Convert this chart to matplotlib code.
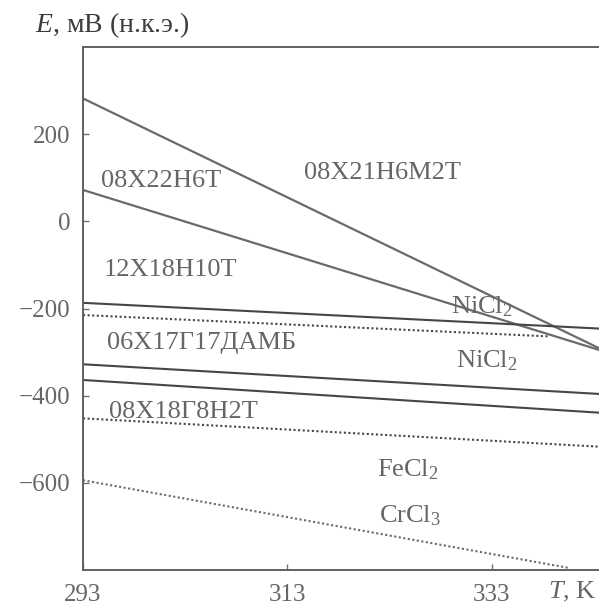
import matplotlib
matplotlib.use("Agg")
import matplotlib.pyplot as plt

plt.rcParams['font.family'] = ['Liberation Serif', 'DejaVu Serif']
plt.rcParams['mathtext.fontset'] = 'custom'
plt.rcParams['mathtext.rm'] = 'Liberation Serif'
plt.rcParams['mathtext.it'] = 'Liberation Serif:italic'

# ---- data ----
T_span = [293, 343.5]
E_08X21N6M2T = [282, -291]
E_08X22N6T = [72, -295]
E_solid_A = [-187, -246]
T_dot_B = [293, 338.6]
E_dot_B = [-215, -264]
E_solid_C = [-328, -396]
E_solid_D = [-364, -439]
E_dot_FeCl2 = [-452, -517]
T_dot_CrCl3 = [293, 340.5]
E_dot_CrCl3 = [-594, -795]

x_ticks = [293, 313, 333]
y_ticks = [200, 0, -200, -400, -600]

W, H = 599, 605
fig = plt.figure(figsize=(W / 100, H / 100), dpi=100)
ax = fig.add_axes([83 / W, 1 - 570 / H, 1 - 83 / W, (570 - 47) / H])
ax.set_xlim(293, 343.5)
ax.set_ylim(-800, 400)

line_col = '#464646'
steep_col = '#6a6a6a'
text_col = '#666666'

ax.plot(T_span, E_08X21N6M2T, color=steep_col, lw=1.6)
ax.plot(T_span, E_08X22N6T, color=steep_col, lw=1.6)
ax.plot(T_span, E_solid_A, color=line_col, lw=1.5)
ax.plot(T_dot_B, E_dot_B, color=line_col, lw=1.5, ls=(0, (1, 1.2)))
ax.plot(T_span, E_solid_C, color=line_col, lw=1.5)
ax.plot(T_span, E_solid_D, color=line_col, lw=1.5)
ax.plot(T_span, E_dot_FeCl2, color=line_col, lw=1.5, ls=(0, (1, 1.2)))
ax.plot(T_dot_CrCl3, E_dot_CrCl3, color='#6a6a6a', lw=1.5, ls=(0, (1, 1.2)))

fs = 19
labels = [
    (300.6, 91.5, '08Х22Н6Т'),
    (322.3, 110, '08Х21Н6М2Т'),
    (301.6, -112, '12Х18Н10Т'),
    (332.0, -197, 'NiCl$_2$'),
    (304.6, -279, '06Х17Г17ДАМБ'),
    (332.5, -320, 'NiCl$_2$'),
    (302.8, -437, '08Х18Г8Н2Т'),
    (324.8, -569, 'FeCl$_2$'),
    (325.0, -675, 'CrCl$_3$'),
]
for x, y, s in labels:
    ax.text(x, y, s, ha='center', va='center', fontsize=fs, color=text_col)

ax.set_xticks(x_ticks)
ax.set_xticklabels([str(v) for v in x_ticks])
ax.set_yticks(y_ticks)
ax.set_yticklabels([str(v).replace('-', '\u2212') for v in y_ticks])
ax.tick_params(direction='in', length=4, width=1, colors='#707070',
               labelsize=18, labelcolor=text_col)
ax.tick_params(axis='y', pad=9)
ax.tick_params(axis='x', pad=10)

for side in ['left', 'bottom', 'top']:
    ax.spines[side].set_color('#606060')
    ax.spines[side].set_linewidth(1.4)
ax.spines['right'].set_visible(False)

fig.text(35 / W, 1 - 25 / H, '$E$, мВ (н.к.э.)', ha='left', va='center',
         fontsize=20, color='#3c3c3c')
fig.text(572 / W, 1 - 592 / H, '$T$, K', ha='center', va='center',
         fontsize=19, color=text_col)

fig.savefig('out.png', dpi=100)
